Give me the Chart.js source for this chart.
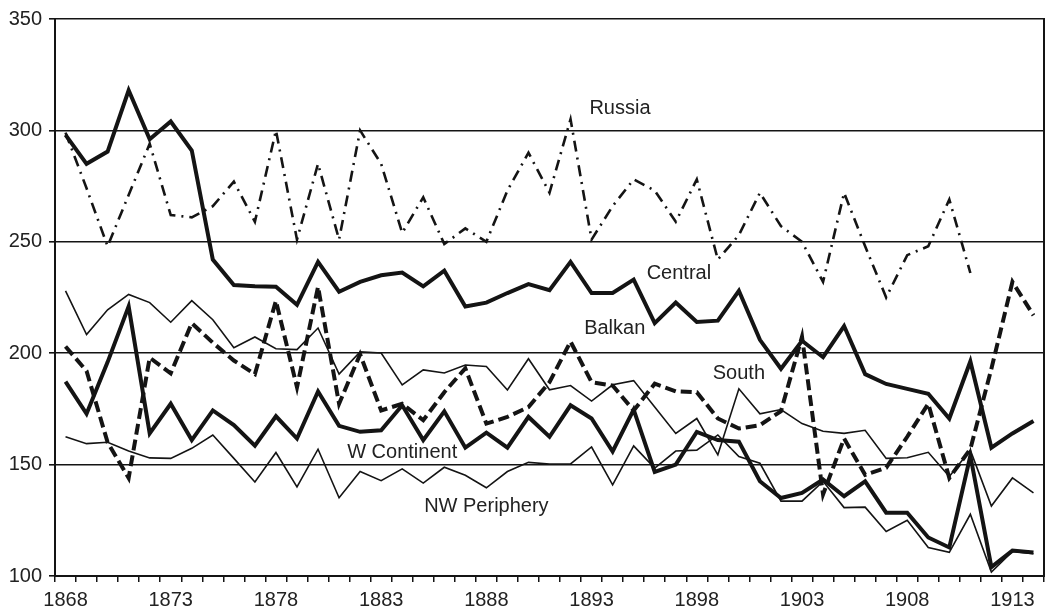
<!DOCTYPE html>
<html>
<head>
<meta charset="utf-8">
<script src="https://cdn.jsdelivr.net/npm/chart.js@4"></script>
<style>
  body { margin: 0; background: #fff; }
  canvas { display: block; }
</style>
</head>
<body>
<canvas id="myChart" width="1049" height="612"></canvas>
<script>
// years on the category axis, 1868 - 1914
const years = [
  1868, 1869, 1870, 1871, 1872, 1873, 1874, 1875, 1876, 1877,
  1878, 1879, 1880, 1881, 1882, 1883, 1884, 1885, 1886, 1887,
  1888, 1889, 1890, 1891, 1892, 1893, 1894, 1895, 1896, 1897,
  1898, 1899, 1900, 1901, 1902, 1903, 1904, 1905, 1906, 1907,
  1908, 1909, 1910, 1911, 1912, 1913, 1914
];

const russia = [
  299, 274, 248, 271, 294, 262, 261, 266, 277, 259,
  300, 251, 285, 251, 300, 285, 254, 270, 249, 256,
  250, 273, 290, 272, 305, 251, 266, 278, 273, 259,
  278, 242, 253, 272, 257, 250, 232, 272, 248, 225,
  244, 248, 269, 236, null, null, null
];

const central = [
  298, 285, 290.5, 318, 296, 304, 291, 242, 230.6, 230,
  229.8, 221.7, 241, 227.6, 232, 235, 236.2, 230, 237, 221,
  222.7, 227, 231, 228.3, 241, 227, 227, 233, 213.5, 222.7,
  214, 214.6, 228, 206, 193, 205.6, 198.2, 212.2, 190.6, 186.2,
  184, 181.8, 170.7, 196.3, 157.6, 164, 169.6
];

const balkan = [
  203, 192, 160, 144, 198, 191, 213.5, 204.7, 196.7, 190.6,
  223.5, 184.7, 229.8, 177.3, 199.5, 174.3, 177.3, 169.9, 182.5, 193.2,
  168.4, 171.4, 175.8, 187, 205.2, 187, 185.5, 174.3, 186.3, 182.9,
  182.5, 170.7, 166.2, 167.7, 174, 207.4, 136.6, 161.7, 145.4, 148.6,
  162.5, 177.3, 144, 157, 193, 232, 217
];

const south = [
  228, 208.4, 219.5, 226.4, 222.7, 213.9, 223.6, 215, 202.5, 207.3,
  202, 201.6, 211.3, 190.6, 200.6, 200.1, 185.8, 192.5, 191.1, 194.7,
  194, 183.5, 197.5, 183.6, 185.5, 178.5, 185.8, 187.7, 175.8, 164,
  170.7, 154.4, 184, 172.8, 174.7, 168.4, 165, 164, 165.4, 152.8,
  153.1, 155.5, 144.7, 156.5, 131.4, 144, 137.3
];

const wContinent = [
  187.2, 172.8, 196, 221, 164, 177.3, 161, 174.3, 167.7, 158.5,
  171.7, 161.7, 182.8, 167.4, 164.7, 165.4, 176.6, 161, 173.9, 157.6,
  164.3, 157.6, 171.4, 162.5, 176.6, 170.7, 155.9, 174.7, 146.7, 150,
  164.7, 161, 160.3, 142.5, 135, 137.3, 143.3, 135.8, 142.5, 128.4,
  128.4, 117.3, 112.8, 154, 104, 111.4, 110.6
];

const nwPeriphery = [
  162.5, 159.4, 160, 156.1, 153, 152.8, 157.3, 163.3, 152.8, 142.2,
  155.4, 140, 156.9, 135.1, 146.9, 142.8, 148.1, 141.7, 148.8, 145.2,
  139.6, 146.9, 151, 150.3, 150.3, 157.9, 140.9, 158.4, 148.4, 156.1,
  156.5, 163.3, 153.6, 150.6, 133.6, 133.6, 142.5, 130.7, 130.9, 120,
  125, 112.8, 110.6, 127.7, 101.8, 111, 110
];

const yTicks = [100, 150, 200, 250, 300, 350];

// series names written inside the plot, placed in data units
const seriesNames = ['Russia', 'Central', 'Balkan', 'South', 'W Continent', 'NW Periphery'];
const nameYear = [1894.35, 1897.15, 1894.1, 1900, 1884, 1888];
const nameValue = [310, 236, 211, 191, 155.5, 131];

const ink = '#141414';
const textColor = '#222';
const fontFamily = '"Liberation Sans", Arial, sans-serif';

function line(label, values, width, dash) {
  return {
    label: label,
    data: values,
    borderColor: ink,
    backgroundColor: ink,
    borderWidth: width,
    borderDash: dash || [],
    pointRadius: 0,
    tension: 0,
    fill: false,
    spanGaps: false
  };
}

const seriesLabels = {
  id: 'seriesLabels',
  afterDatasetsDraw(chart) {
    const ctx = chart.ctx;
    const x = chart.scales.x, y = chart.scales.y;
    ctx.save();
    ctx.fillStyle = textColor;
    ctx.font = '20px ' + fontFamily;
    ctx.textAlign = 'center';
    ctx.textBaseline = 'middle';
    seriesNames.forEach(function(name, i) {
      ctx.fillText(name, x.getPixelForValue(nameYear[i] - years[0]), y.getPixelForValue(nameValue[i]));
    });
    ctx.restore();
  }
};

// right edge of the plot box
const rightBorder = {
  id: 'rightBorder',
  afterDraw(chart) {
    const a = chart.chartArea, ctx = chart.ctx;
    ctx.save();
    ctx.strokeStyle = ink;
    ctx.lineWidth = 2;
    ctx.beginPath();
    ctx.moveTo(a.right, a.top - 1);
    ctx.lineTo(a.right, a.bottom + 1);
    ctx.stroke();
    ctx.restore();
  }
};

const config = {
  type: 'line',
  data: {
    labels: years.map(String),
    datasets: [
      line('NW Periphery', nwPeriphery, 1.6),
      line('South', south, 1.6),
      line('Russia', russia, 2.6, [11, 6, 2, 6]),
      line('Balkan', balkan, 4, [11, 5]),
      line('W Continent', wContinent, 4),
      line('Central', central, 4)
    ]
  },
  options: {
    responsive: false,
    animation: false,
    devicePixelRatio: 1,
    layout: { padding: { top: 13, right: 5, left: 0, bottom: 0 } },
    plugins: { legend: { display: false }, tooltip: { enabled: false } },
    scales: {
      x: {
        type: 'category',
        offset: true,
        grid: { offset: true, drawOnChartArea: false, color: ink, lineWidth: 1.5, tickLength: 6 },
        border: { color: ink, width: 2 },
        ticks: {
          autoSkip: false,
          maxRotation: 0,
          padding: 6,
          color: textColor,
          font: { family: fontFamily, size: 20 },
          callback: function(v, i) {
            return (years[i] - years[0]) % 5 === 0 ? String(years[i]) : '';
          }
        },
        afterFit: function(s) { s.height = 36; }
      },
      y: {
        min: yTicks[0],
        max: yTicks[yTicks.length - 1],
        grid: { color: ink, lineWidth: 1.6, tickLength: 6 },
        border: { color: ink, width: 2 },
        ticks: {
          stepSize: 50,
          padding: 7,
          color: textColor,
          font: { family: fontFamily, size: 20 }
        },
        afterFit: function(s) { s.width = 55; }
      }
    }
  },
  plugins: [seriesLabels, rightBorder]
};

const myChart = new Chart(document.getElementById('myChart'), config);
</script>
</body>
</html>
